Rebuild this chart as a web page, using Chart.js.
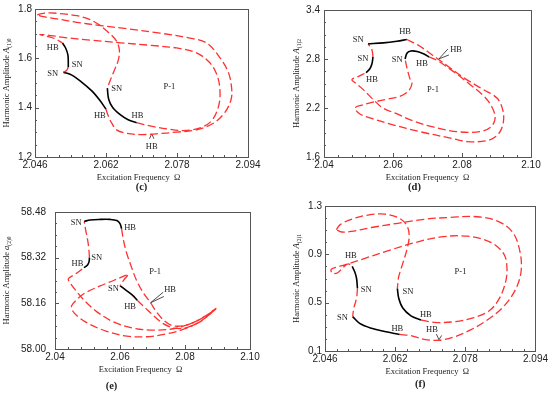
<!DOCTYPE html>
<html>
<head>
<meta charset="utf-8">
<script src="https://cdn.jsdelivr.net/npm/chart.js@4.4.1/dist/chart.umd.min.js"></script>
<style>
  body { margin: 0; background: #fff; width: 550px; height: 394px; position: relative; overflow: hidden; }
  canvas { position: absolute; }
</style>
</head>
<body>
<canvas id="pc" width="275" height="197" style="left:0;top:0"></canvas>
<canvas id="pd" width="275" height="197" style="left:275px;top:0"></canvas>
<canvas id="pe" width="275" height="197" style="left:0;top:197px"></canvas>
<canvas id="pf" width="275" height="197" style="left:275px;top:197px"></canvas>
<script>
// ---- panel (c) ----
const cTicksX = [2.046, 2.062, 2.078, 2.094];
const cTicksY = [1.2, 1.4, 1.6, 1.8];
const cRed1 = [[2.0465,1.776],[2.0475,1.781],[2.0494,1.784],[2.0524,1.780],[2.0554,1.773],[2.0580,1.760],[2.0603,1.738],[2.0625,1.706],[2.0643,1.672],[2.0650,1.635],[2.0648,1.595],[2.0638,1.548],[2.0629,1.508],[2.0623,1.479]];
const cBlack1 = [[2.0623,1.479],[2.0626,1.434],[2.0635,1.401],[2.0652,1.372],[2.0670,1.351],[2.0689,1.339]];
const cRed2 = [[2.0689,1.339],[2.0719,1.326],[2.0757,1.314],[2.0794,1.307],[2.0832,1.318],[2.0858,1.347],[2.0873,1.401],[2.0877,1.461],[2.0871,1.528],[2.0854,1.582],[2.0824,1.622],[2.0779,1.642],[2.0719,1.653],[2.0652,1.663],[2.0584,1.674],[2.0524,1.685],[2.0486,1.695],[2.0471,1.696],[2.0490,1.688],[2.0507,1.678],[2.0522,1.662]];
const cBlack2 = [[2.0522,1.662],[2.0529,1.642],[2.0534,1.615],[2.0535,1.588],[2.0535,1.564]];
const cRed3 = [[2.0535,1.564],[2.0531,1.551],[2.0524,1.544]];
const cBlack3 = [[2.0524,1.544],[2.0543,1.532],[2.0565,1.504],[2.0588,1.468],[2.0606,1.430],[2.0620,1.394]];
const cRed4 = [[2.0620,1.394],[2.0625,1.367],[2.0633,1.337],[2.0644,1.310],[2.0663,1.297],[2.0697,1.291],[2.0734,1.294],[2.0779,1.301],[2.0824,1.310],[2.0862,1.337],[2.0888,1.381],[2.0902,1.434],[2.0903,1.481],[2.0896,1.542],[2.0877,1.602],[2.0847,1.662],[2.0809,1.682],[2.0742,1.702],[2.0667,1.720],[2.0607,1.733],[2.0554,1.746],[2.0509,1.760],[2.0479,1.769],[2.0465,1.776]];
const cArrow = [[2.0718,1.274],[2.0723,1.294],[2.0728,1.274]];
const cLabels = [['HB',2.0500,1.642],['SN',2.0555,1.572],['SN',2.0500,1.539],['SN',2.0644,1.475],['HB',2.0606,1.367],['HB',2.0691,1.367],['P-1',2.0763,1.484],['HB',2.0723,1.240]];

// ---- panel (d) ----
const dTicksX = [2.04, 2.06, 2.08, 2.10];
const dTicksY = [1.6, 2.2, 2.8, 3.4];
const dBlack1 = [[2.0528,2.986],[2.0572,2.998],[2.0611,3.018],[2.0640,3.039]];
const dRed1 = [[2.0640,3.039],[2.0673,2.970],[2.0702,2.886],[2.0730,2.801],[2.0765,2.693],[2.0809,2.560],[2.0861,2.428],[2.0902,2.319],[2.0919,2.163],[2.0919,2.006],[2.0904,1.874],[2.0873,1.801],[2.0815,1.789],[2.0774,1.825],[2.0678,1.910],[2.0600,1.994],[2.0542,2.066],[2.0504,2.127],[2.0490,2.200],[2.0510,2.235],[2.0542,2.271],[2.0583,2.307],[2.0620,2.343],[2.0644,2.404],[2.0655,2.500],[2.0649,2.560],[2.0641,2.681],[2.0635,2.801]];
const dBlack2 = [[2.0635,2.801],[2.0641,2.873],[2.0652,2.898],[2.0670,2.892],[2.0690,2.861],[2.0704,2.825]];
const dRed2 = [[2.0704,2.825],[2.0730,2.777],[2.0780,2.632],[2.0823,2.488],[2.0864,2.343],[2.0887,2.209],[2.0896,2.078],[2.0884,1.968],[2.0852,1.910],[2.0786,1.910],[2.0716,1.968],[2.0658,2.042],[2.0612,2.127],[2.0571,2.199],[2.0542,2.307],[2.0513,2.428],[2.0493,2.500],[2.0481,2.548],[2.0499,2.584],[2.0522,2.632]];
const dBlack3 = [[2.0522,2.632],[2.0533,2.681],[2.0539,2.741],[2.0542,2.825]];
const dRed3 = [[2.0542,2.825],[2.0539,2.910],[2.0528,2.986]];
const dArrow = [[2.0759,2.922],[2.0733,2.801],[2.0762,2.849]];
const dLabels = [['SN',2.0499,3.030],['HB',2.0635,3.139],['SN',2.0513,2.801],['HB',2.0539,2.548],['SN',2.0612,2.789],['HB',2.0684,2.741],['HB',2.0783,2.910],['P-1',2.0716,2.428]];

// ---- panel (e) ----
const eTicksX = [2.04, 2.06, 2.08, 2.10];
const eTicksY = [58.00, 58.16, 58.32, 58.48];
const eBlack1 = [[2.0490,58.447],[2.0508,58.452],[2.0539,58.454],[2.0569,58.454],[2.0590,58.450],[2.0600,58.439],[2.0605,58.421]];
const eRed1 = [[2.0605,58.421],[2.0610,58.385],[2.0619,58.341],[2.0636,58.285],[2.0651,58.240],[2.0672,58.196],[2.0694,58.162],[2.0713,58.129],[2.0738,58.097],[2.0764,58.081],[2.0805,58.084],[2.0846,58.104],[2.0877,58.126],[2.0895,58.142],[2.0872,58.117],[2.0841,58.093],[2.0800,58.071],[2.0744,58.053],[2.0682,58.043],[2.0621,58.045],[2.0559,58.062],[2.0508,58.086],[2.0472,58.112],[2.0454,58.134],[2.0451,58.151],[2.0465,58.171],[2.0492,58.196],[2.0539,58.221],[2.0580,58.240],[2.0615,58.257],[2.0626,58.262],[2.0612,58.242],[2.0600,58.222]];
const eBlack2 = [[2.0600,58.222],[2.0621,58.204],[2.0639,58.188],[2.0653,58.171]];
const eRed2 = [[2.0653,58.171],[2.0677,58.145],[2.0703,58.117],[2.0733,58.089],[2.0769,58.073],[2.0805,58.075],[2.0846,58.095],[2.0877,58.123],[2.0895,58.142],[2.0862,58.115],[2.0820,58.090],[2.0764,58.071],[2.0703,58.066],[2.0641,58.073],[2.0580,58.095],[2.0528,58.131],[2.0492,58.168],[2.0467,58.201],[2.0448,58.229],[2.0441,58.246],[2.0462,58.262],[2.0489,58.285]];
const eBlack3 = [[2.0489,58.285],[2.0500,58.294],[2.0505,58.307],[2.0506,58.320]];
const eRed3 = [[2.0506,58.320],[2.0504,58.352],[2.0500,58.385],[2.0494,58.419],[2.0490,58.447]];
const eArrow = [[2.0733,58.199],[2.0694,58.162],[2.0735,58.184]];
const eLabels = [['SN',2.0465,58.443],['HB',2.0631,58.424],['SN',2.0528,58.320],['HB',2.0469,58.299],['P-1',2.0708,58.271],['SN',2.0580,58.212],['HB',2.0754,58.207],['HB',2.0631,58.149]];

// ---- panel (f) ----
const fTicksX = [2.046, 2.062, 2.078, 2.094];
const fTicksY = [0.1, 0.5, 0.9, 1.3];
const fRed1 = [[2.0486,1.104],[2.0494,1.144],[2.0520,1.190],[2.0558,1.225],[2.0596,1.233],[2.0630,1.198],[2.0647,1.136],[2.0652,1.050],[2.0647,0.942],[2.0637,0.821],[2.0628,0.713],[2.0625,0.619]];
const fBlack1 = [[2.0625,0.619],[2.0628,0.539],[2.0637,0.458],[2.0656,0.391],[2.0679,0.356]];
const fRed2 = [[2.0679,0.356],[2.0709,0.337],[2.0754,0.342],[2.0800,0.377],[2.0834,0.431],[2.0856,0.525],[2.0871,0.660],[2.0875,0.781],[2.0868,0.902],[2.0837,1.001],[2.0785,1.050],[2.0724,1.044],[2.0664,0.996],[2.0603,0.929],[2.0551,0.867],[2.0505,0.813],[2.0486,0.794],[2.0474,0.775],[2.0477,0.743],[2.0489,0.748],[2.0502,0.794],[2.0513,0.821],[2.0522,0.800]];
const fBlack2 = [[2.0522,0.800],[2.0528,0.754],[2.0532,0.700],[2.0534,0.619]];
const fRed3 = [[2.0534,0.619],[2.0532,0.539],[2.0526,0.458],[2.0523,0.385]];
const fBlack3 = [[2.0523,0.385],[2.0539,0.329],[2.0566,0.288],[2.0596,0.261],[2.0630,0.237]];
const fRed4 = [[2.0630,0.237],[2.0656,0.227],[2.0686,0.197],[2.0720,0.189],[2.0754,0.216],[2.0792,0.275],[2.0830,0.356],[2.0868,0.471],[2.0894,0.606],[2.0907,0.754],[2.0905,0.915],[2.0889,1.077],[2.0856,1.171],[2.0807,1.211],[2.0747,1.206],[2.0686,1.190],[2.0626,1.157],[2.0566,1.122],[2.0520,1.090],[2.0498,1.085],[2.0486,1.104]];
const fArrow = [[2.0714,0.240],[2.0720,0.194],[2.0726,0.229]];
const fLabels = [['HB',2.0519,0.888],['SN',2.0554,0.606],['SN',2.0500,0.372],['HB',2.0625,0.283],['SN',2.0649,0.592],['HB',2.0690,0.404],['HB',2.0704,0.278],['P-1',2.0769,0.759]];

const RED = '#ff3030';

function seg(points, stable) {
  return {
    data: points.map(p => ({ x: p[0], y: p[1] })),
    showLine: true,
    pointRadius: 0,
    borderColor: stable ? '#000' : RED,
    borderWidth: stable ? 1.6 : 1.3,
    borderDash: stable ? [] : [8, 3.5],
    tension: 0.35,
    fill: false
  };
}

function arrow(points) {
  return {
    data: points.map(p => ({ x: p[0], y: p[1] })),
    showLine: true,
    pointRadius: 0,
    borderColor: '#222',
    borderWidth: 0.8,
    tension: 0
  };
}

// frame, inward ticks, curve labels and axis titles
function decor(o) {
  return {
    id: 'decor',
    afterDatasetsDraw(chart) {
      const ctx = chart.ctx, a = chart.chartArea;
      const sx = chart.scales.x, sy = chart.scales.y;
      ctx.save();
      ctx.strokeStyle = '#555';
      ctx.lineWidth = 1;
      ctx.strokeRect(Math.round(a.left) + 0.5, Math.round(a.top) + 0.5,
        Math.round(a.right - a.left), Math.round(a.bottom - a.top));

      ctx.beginPath();
      const xt = o.xTicks, yt = o.yTicks;
      for (let i = 0; i < xt.length; i++) {
        const p = Math.round(sx.getPixelForValue(xt[i])) + 0.5;
        ctx.moveTo(p, a.bottom); ctx.lineTo(p, a.bottom - 4);
        if (i < xt.length - 1) {
          for (let k = 1; k < o.xSub; k++) {
            const q = Math.round(sx.getPixelForValue(xt[i] + (xt[i + 1] - xt[i]) * k / o.xSub)) + 0.5;
            ctx.moveTo(q, a.bottom); ctx.lineTo(q, a.bottom - 2);
          }
        }
      }
      for (let i = 0; i < yt.length; i++) {
        const p = Math.round(sy.getPixelForValue(yt[i])) + 0.5;
        ctx.moveTo(a.left, p); ctx.lineTo(a.left + 4, p);
        if (i < yt.length - 1) {
          for (let k = 1; k < o.ySub; k++) {
            const q = Math.round(sy.getPixelForValue(yt[i] + (yt[i + 1] - yt[i]) * k / o.ySub)) + 0.5;
            ctx.moveTo(a.left, q); ctx.lineTo(a.left + 2, q);
          }
        }
      }
      ctx.stroke();

      ctx.fillStyle = '#222';
      ctx.font = '8.5px "Liberation Serif"';
      ctx.textAlign = 'center';
      ctx.textBaseline = 'middle';
      o.labels.forEach(l => ctx.fillText(l[0], sx.getPixelForValue(l[1]), sy.getPixelForValue(l[2])));

      const cx = (a.left + a.right) / 2;
      ctx.fillText('Excitation Frequency  \u03A9', cx + o.titleDx, a.bottom + 21);
      ctx.font = 'bold 10.5px "Liberation Serif"';
      ctx.fillText(o.caption, cx + o.capDx, a.bottom + o.capDy);

      // rotated y title with italic symbol and subscript
      const cy = (a.top + a.bottom) / 2;
      ctx.translate(o.yTitleX, cy);
      ctx.rotate(-Math.PI / 2);
      ctx.textAlign = 'left';
      const f1 = '8.5px "Liberation Serif"', f2 = 'italic 8.5px "Liberation Serif"', f3 = '5.5px "Liberation Serif"';
      const main = 'Harmonic Amplitude ';
      ctx.font = f1; const w1 = ctx.measureText(main).width;
      ctx.font = f2; const w2 = ctx.measureText(o.sym).width;
      ctx.font = f3; const w3 = ctx.measureText(o.sub).width;
      let x0 = -(w1 + w2 + w3) / 2;
      ctx.font = f1; ctx.fillText(main, x0, 0);
      ctx.font = f2; ctx.fillText(o.sym, x0 + w1, 0);
      ctx.font = f3; ctx.fillText(o.sub, x0 + w1 + w2, 3);
      ctx.restore();
    }
  };
}

function makePanel(id, p) {
  new Chart(document.getElementById(id), {
    type: 'scatter',
    data: { datasets: p.datasets },
    options: {
      responsive: false,
      animation: false,
      devicePixelRatio: 1,
      layout: { autoPadding: false, padding: { top: p.top, right: p.right, left: 0, bottom: 0 } },
      plugins: { legend: { display: false }, tooltip: { enabled: false } },
      scales: {
        x: {
          type: 'linear',
          min: p.xTicks[0], max: p.xTicks[p.xTicks.length - 1],
          afterBuildTicks: s => { s.ticks = p.xTicks.map(v => ({ value: v })); },
          afterFit: s => { s.height = p.xh; },
          grid: { display: false, drawTicks: false },
          border: { display: false },
          ticks: {
            padding: 2, color: '#222',
            font: { family: '"Liberation Sans"', size: 10 },
            maxRotation: 0,
            callback: v => v.toFixed(p.xDec)
          }
        },
        y: {
          type: 'linear',
          min: p.yTicks[0], max: p.yTicks[p.yTicks.length - 1],
          afterBuildTicks: s => { s.ticks = p.yTicks.map(v => ({ value: v })); },
          afterFit: s => { s.width = p.yw; },
          grid: { display: false, drawTicks: false },
          border: { display: false },
          ticks: {
            padding: p.yPad, color: '#222',
            font: { family: '"Liberation Sans"', size: 10 },
            callback: v => v.toFixed(p.yDec)
          }
        }
      }
    },
    plugins: [decor({
      xTicks: p.xTicks, yTicks: p.yTicks, xSub: p.xSub, ySub: 4,
      labels: p.labels, caption: p.caption, sym: p.sym, sub: p.sub,
      yTitleX: p.yTitleX, titleDx: p.titleDx, capDx: p.capDx, capDy: p.capDy
    })]
  });
}

makePanel('pc', {
  datasets: [seg(cRed1,false), seg(cBlack1,true), seg(cRed2,false), seg(cBlack2,true), seg(cRed3,false), seg(cBlack3,true), seg(cRed4,false), arrow(cArrow)],
  xTicks: cTicksX, yTicks: cTicksY, xDec: 3, yDec: 1, xSub: 6, yPad: 3,
  top: 7, right: 27, yw: 35, xh: 40,
  labels: cLabels, caption: '(c)', sym: 'A', sub: '(1)0',
  yTitleX: 7, titleDx: -3, capDx: 0, capDy: 30
});
makePanel('pd', {
  datasets: [seg(dBlack1,true), seg(dRed1,false), seg(dBlack2,true), seg(dRed2,false), seg(dBlack3,true), seg(dRed3,false), arrow(dArrow)],
  xTicks: dTicksX, yTicks: dTicksY, xDec: 2, yDec: 1, xSub: 5, yPad: 4,
  top: 7, right: 19, yw: 49, xh: 40,
  labels: dLabels, caption: '(d)', sym: 'A', sub: '(1)2',
  yTitleX: 22, titleDx: 0, capDx: -13, capDy: 30
});
makePanel('pe', {
  datasets: [seg(eBlack1,true), seg(eRed1,false), seg(eBlack2,true), seg(eRed2,false), seg(eBlack3,true), seg(eRed3,false), arrow(eArrow)],
  xTicks: eTicksX, yTicks: eTicksY, xDec: 2, yDec: 2, xSub: 5, yPad: 9,
  top: 8, right: 25, yw: 55, xh: 45,
  labels: eLabels, caption: '(e)', sym: 'a', sub: '(2)0',
  yTitleX: 7, titleDx: -12, capDx: -41, capDy: 37
});
makePanel('pf', {
  datasets: [seg(fRed1,false), seg(fBlack1,true), seg(fRed2,false), seg(fBlack2,true), seg(fRed3,false), seg(fBlack3,true), seg(fRed4,false), arrow(fArrow)],
  xTicks: fTicksX, yTicks: fTicksY, xDec: 3, yDec: 1, xSub: 6, yPad: 3,
  top: 6, right: 13, yw: 50, xh: 43,
  labels: fLabels, caption: '(f)', sym: 'A', sub: '(2)1',
  yTitleX: 22, titleDx: -3, capDx: -10, capDy: 33
});
</script>
</body>
</html>
